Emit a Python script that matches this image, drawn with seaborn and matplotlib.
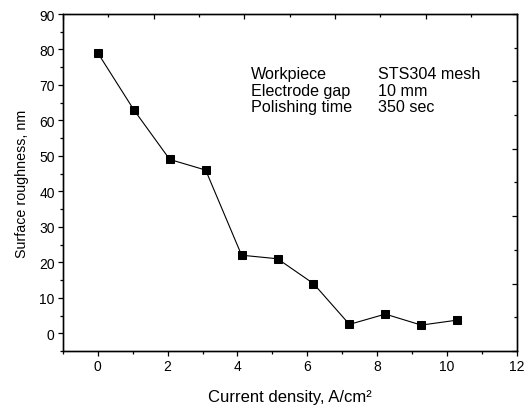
import matplotlib
matplotlib.use("Agg")
import matplotlib.pyplot as plt
import seaborn as sns
import pandas as pd
from matplotlib.ticker import MultipleLocator, NullFormatter

current_density = [0.0, 1.03, 2.06, 3.09, 4.12, 5.15, 6.18, 7.21, 8.24, 9.27, 10.3]
roughness = [79.0, 63.0, 49.0, 46.0, 22.0, 21.0, 14.0, 2.5, 5.4, 2.3, 3.7]
info_labels = ["Workpiece", "Electrode gap", "Polishing time"]
info_values = ["STS304 mesh", "10 mm", "350 sec"]

sns.set_theme(style="ticks")
plt.rcParams['font.family'] = ['Liberation Sans', 'DejaVu Sans']

df = pd.DataFrame({"x": current_density, "y": roughness})

fig = plt.figure(figsize=(5.31, 4.10), dpi=100)
ax = fig.add_axes([0.1186, 0.1415, 0.8541, 0.8219])

sns.lineplot(data=df, x="x", y="y", ax=ax, color="black", linewidth=0.8,
             marker="s", markersize=5.3, markeredgecolor="black",
             markerfacecolor="black")

ax.set_xlim(-1, 12)
ax.set_ylim(-5, 90)
ax.xaxis.set_major_locator(MultipleLocator(2))
ax.xaxis.set_minor_locator(MultipleLocator(1))
ax.yaxis.set_major_locator(MultipleLocator(10))
ax.yaxis.set_minor_locator(MultipleLocator(5))
ax.tick_params(which="major", direction="out", length=3.8, width=0.9,
               labelsize=10, color="black", labelcolor="black", pad=2.2)
ax.tick_params(which="minor", direction="out", length=2.3, width=0.9,
               color="black")
for s in ax.spines.values():
    s.set_linewidth(0.9)
    s.set_color("black")

ax.set_xlabel("Current density, A/cm²", fontsize=12, color="black", labelpad=11)
ax.set_ylabel("Surface roughness, nm", fontsize=10.3, color="black", labelpad=7)

# mirrored inward ticks on top and right
axt = ax.twiny()
axt.set_xlim(0, 10)
axt.xaxis.set_major_locator(MultipleLocator(2))
axt.xaxis.set_minor_locator(MultipleLocator(1))
axt.xaxis.set_major_formatter(NullFormatter())
axt.tick_params(which="major", direction="in", length=3.8, width=0.9, color="black")
axt.tick_params(which="minor", direction="in", length=2.3, width=0.9, color="black")
axr = ax.twinx()
axr.set_ylim(0, 10)
axr.yaxis.set_major_locator(MultipleLocator(2))
axr.yaxis.set_minor_locator(MultipleLocator(1))
axr.yaxis.set_major_formatter(NullFormatter())
axr.tick_params(which="major", direction="in", length=3.8, width=0.9, color="black")
axr.tick_params(which="minor", direction="in", length=2.3, width=0.9, color="black")
for a in (axt, axr):
    for s in a.spines.values():
        s.set_linewidth(0.9)
        s.set_color("black")

for i, (lab, val) in enumerate(zip(info_labels, info_values)):
    ypos = 1 - (79.3 + i * 16.3) / 410
    fig.text(251 / 531, ypos, lab, fontsize=11.6, color="black", va="baseline")
    fig.text(378 / 531, ypos, val, fontsize=11.6, color="black", va="baseline")

fig.savefig("out.png", dpi=100)
